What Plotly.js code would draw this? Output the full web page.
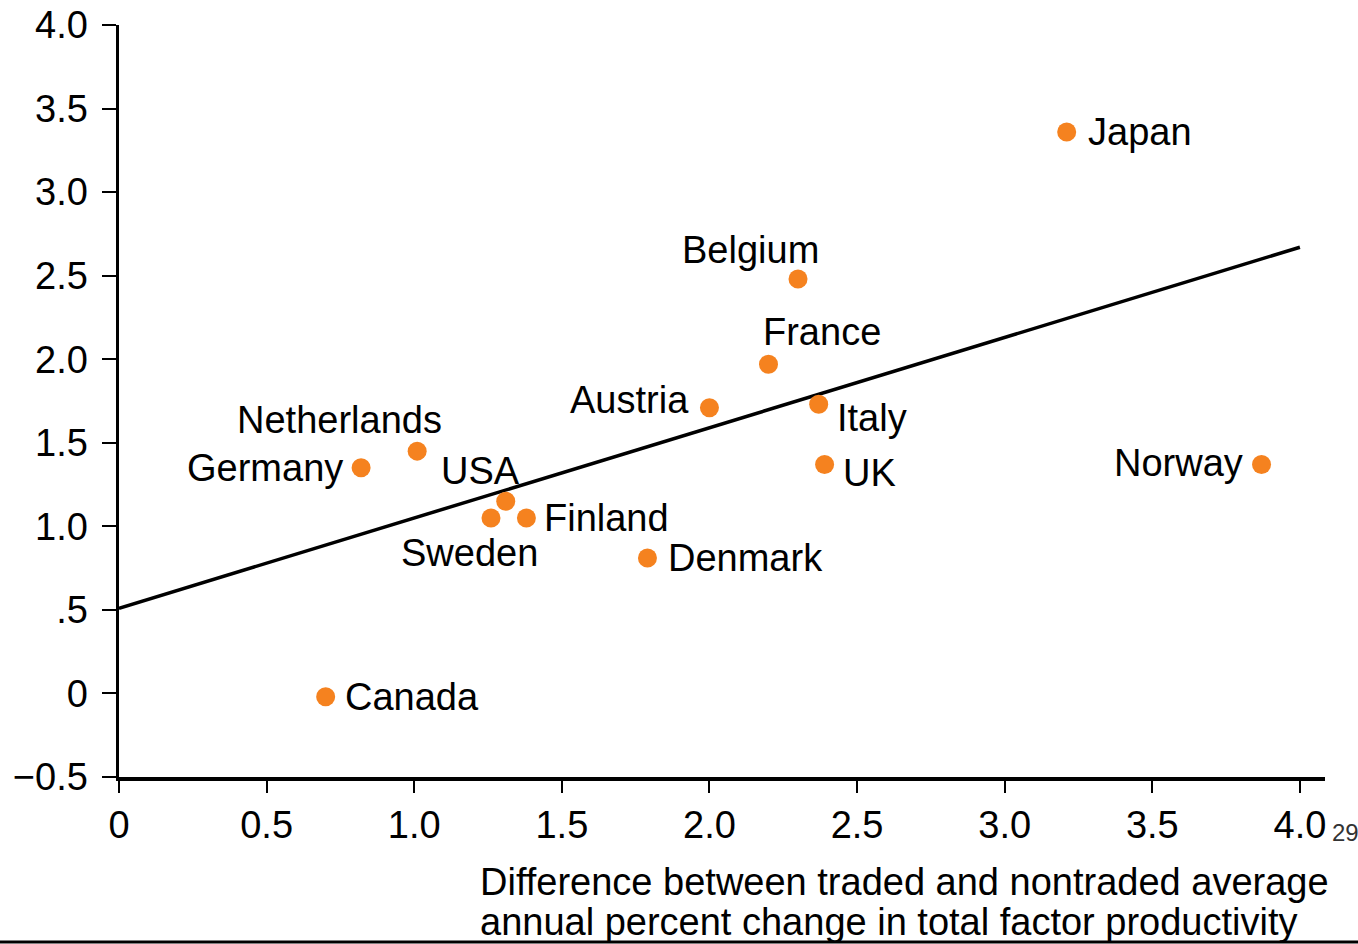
<!DOCTYPE html>
<html>
<head>
<meta charset="utf-8">
<script src="https://cdn.plot.ly/plotly-3.0.1.min.js"></script>
<style>
  html, body { margin: 0; padding: 0; background: #fff; }
  #chart { width: 1358px; height: 944px; }
</style>
</head>
<body>
<div id="chart"></div>
<script>
// ---- data ----
const countries = ["Japan", "Belgium", "France", "Austria", "Italy", "UK", "Norway",
                   "Netherlands", "Germany", "USA", "Finland", "Sweden", "Denmark", "Canada"];
const tfpDiff   = [3.21, 2.30, 2.20, 2.00, 2.37, 2.39, 3.87,
                   1.01, 0.82, 1.31, 1.38, 1.26, 1.79, 0.70];
const priceDiff = [3.36, 2.48, 1.97, 1.71, 1.73, 1.37, 1.37,
                   1.45, 1.35, 1.15, 1.05, 1.05, 0.81, -0.02];
const fitX = [0, 4.0];
const fitY = [0.51, 2.67];
const xTickVals = [0, 0.5, 1.0, 1.5, 2.0, 2.5, 3.0, 3.5, 4.0];
const xTickText = ["0", "0.5", "1.0", "1.5", "2.0", "2.5", "3.0", "3.5", "4.0"];
const yTickVals = [-0.5, 0, 0.5, 1.0, 1.5, 2.0, 2.5, 3.0, 3.5, 4.0];
const yTickText = ["\u22120.5", "0", ".5", "1.0", "1.5", "2.0", "2.5", "3.0", "3.5", "4.0"];
const xTitleLines = ["Difference between traded and nontraded average",
                     "annual percent change in total factor productivity"];

// ---- label placement (style) ----
const labelAnchor = ["left", "center", "center", "right", "left", "left", "right",
                     "center", "right", "center", "left", "center", "left", "left"];
const labelDX = [19, -48, 53, -18, 16, 16, -17, -78, -16, -25, 16, -21, 19, 17];
const labelDY = [0, 29, 32, 8, -14, -8, 2, 31, 0, 30, 0, -35, 0, 0];

const FONT = "'Liberation Sans', Arial, Helvetica, sans-serif";
const FS = 38;

const traces = [
  {
    x: fitX, y: fitY, mode: "lines", type: "scatter",
    line: { color: "#000", width: 3.5 }, hoverinfo: "skip", cliponaxis: false
  },
  {
    x: tfpDiff, y: priceDiff, mode: "markers", type: "scatter",
    marker: { color: "#F5821F", size: 19, line: { width: 0 } },
    text: countries, cliponaxis: false
  }
];

const annotations = countries.map((c, i) => ({
  x: tfpDiff[i], y: priceDiff[i], xref: "x", yref: "y",
  text: c, showarrow: false,
  xanchor: labelAnchor[i], yanchor: "middle",
  xshift: labelDX[i], yshift: labelDY[i],
  font: { family: FONT, size: FS, color: "#000" }
}));

annotations.push(
  { xref: "paper", yref: "paper", x: (478 - 119) / 1206, y: -(882 - 777) / 752,
    xanchor: "left", yanchor: "middle", showarrow: false, text: xTitleLines[0],
    font: { family: FONT, size: FS, color: "#000" } },
  { xref: "paper", yref: "paper", x: (478 - 119) / 1206, y: -(922 - 777) / 752,
    xanchor: "left", yanchor: "middle", showarrow: false, text: xTitleLines[1],
    font: { family: FONT, size: FS, color: "#000" } },
  { xref: "paper", yref: "paper", x: (1330 - 119) / 1206, y: -(832 - 777) / 752,
    xanchor: "left", yanchor: "middle", showarrow: false, text: "29",
    font: { family: FONT, size: 24, color: "#333" } }
);

const layout = {
  width: 1358, height: 944,
  margin: { l: 119, r: 33, t: 25, b: 167, pad: 0 },
  paper_bgcolor: "#fff", plot_bgcolor: "#fff",
  showlegend: false,
  font: { family: FONT, size: FS, color: "#000" },
  xaxis: {
    range: [0, 4.085], showgrid: false, zeroline: false,
    showline: true, linecolor: "#000", linewidth: 3.5,
    ticks: "outside", ticklen: 12, tickwidth: 2, tickcolor: "#000",
    tickvals: xTickVals, ticktext: xTickText,
    tickfont: { family: FONT, size: FS, color: "#000" }
  },
  yaxis: {
    range: [-0.5, 4.0], showgrid: false, zeroline: false,
    showline: true, linecolor: "#000", linewidth: 3.5,
    ticks: "outside", ticklen: 14, tickwidth: 2, tickcolor: "#000",
    ticklabelstandoff: 6,
    tickvals: yTickVals, ticktext: yTickText,
    tickfont: { family: FONT, size: FS, color: "#000" }
  },
  shapes: [
    { type: "line", xref: "paper", yref: "paper",
      x0: -119 / 1206, x1: 1 + 33 / 1206, y0: -(942 - 777) / 752, y1: -(942 - 777) / 752,
      line: { color: "#000", width: 3 } }
  ],
  annotations: annotations
};

Plotly.newPlot("chart", traces, layout, { displayModeBar: false, staticPlot: true });
</script>
</body>
</html>
